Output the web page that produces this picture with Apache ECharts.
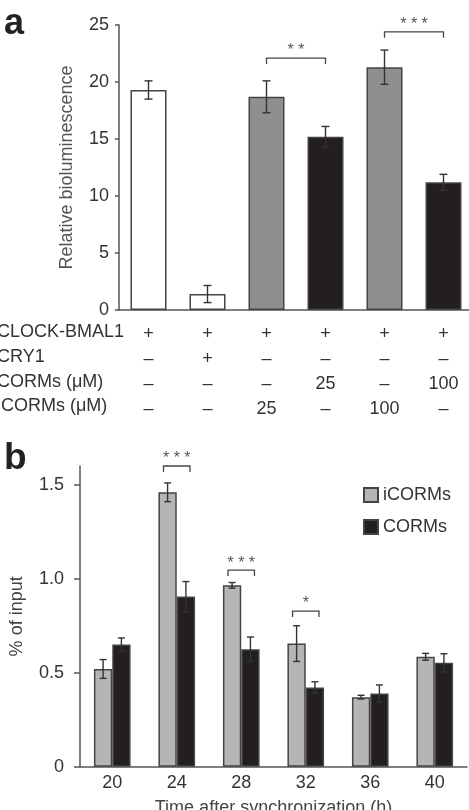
<!DOCTYPE html>
<html>
<head>
<meta charset="utf-8">
<script src="https://cdn.jsdelivr.net/npm/echarts@6.0.0/dist/echarts.min.js"></script>
<style>
  html, body { margin: 0; padding: 0; background: #fff; }
  #main { width: 469px; height: 810px; }
</style>
</head>
<body>
<div id="main"></div>
<script>
// panel a: luciferase assay
const condsA = ['c1', 'c2', 'c3', 'c4', 'c5', 'c6'];
const valsA = [19.3, 1.4, 18.7, 15.2, 21.3, 11.2];
const errA = [0.8, 0.75, 1.4, 0.9, 1.5, 0.7];
const kindA = ['open', 'open', 'inactive', 'active', 'inactive', 'active'];
const ticksA = [0, 5, 10, 15, 20, 25];

// table under panel a
const rowNames = ['CLOCK-BMAL1', 'CRY1', 'CORMs (μM)', 'iCORMs (μM)'];
const rowClock = ['+', '+', '+', '+', '+', '+'];
const rowCry = ['–', '+', '–', '–', '–', '–'];
const rowCorms = ['–', '–', '–', '25', '–', '100'];
const rowIcorms = ['–', '–', '25', '–', '100', '–'];

// significance brackets a: [fromIdx, toIdx, y, stars]
const sigA = [[2, 3, 22.1, '* *'], [4, 5, 24.4, '* * *']];

// panel b: ChIP time course
const hours = ['20', '24', '28', '32', '36', '40'];
const icormVals = [0.52, 1.46, 0.965, 0.655, 0.37, 0.585];
const icormErr = [0.05, 0.05, 0.015, 0.095, 0.01, 0.018];
const cormVals = [0.65, 0.905, 0.625, 0.422, 0.39, 0.553];
const cormErr = [0.035, 0.08, 0.065, 0.03, 0.045, 0.048];
const ticksB = [0, 0.5, 1.0, 1.5];
// significance brackets b: [hourIdx, y, stars]
const sigB = [[1, 1.6, '* * *'], [2, 1.046, '* * *'], [3, 0.828, '*']];

const FONT = '"Liberation Sans", Arial, sans-serif';
const fill = { open: '#ffffff', inactive: '#8f8f92', active: '#231f20' };

const chart = echarts.init(document.getElementById('main'));

function errBars(offsetFrac, cap) {
  return function (params, api) {
    const i = api.value(0), v = api.value(1), e = api.value(2);
    const band = api.size([1, 0])[0];
    const top = api.coord([i, v + e]);
    const bot = api.coord([i, v - e]);
    const cx = top[0] + band * offsetFrac;
    const st = { stroke: '#333', lineWidth: 1.4 };
    return {
      type: 'group',
      children: [
        { type: 'line', shape: { x1: cx, y1: top[1], x2: cx, y2: bot[1] }, style: st },
        { type: 'line', shape: { x1: cx - cap, y1: top[1], x2: cx + cap, y2: top[1] }, style: st },
        { type: 'line', shape: { x1: cx - cap, y1: bot[1], x2: cx + cap, y2: bot[1] }, style: st }
      ]
    };
  };
}

function bracket(p1, p2, label) {
  return {
    type: 'group',
    children: [
      {
        type: 'polyline',
        shape: { points: [[p1[0], p1[1] + 6], [p1[0], p1[1]], [p2[0], p2[1]], [p2[0], p2[1] + 6]] },
        style: { stroke: '#444', lineWidth: 1.3, fill: null }
      },
      {
        type: 'text',
        x: (p1[0] + p2[0]) / 2, y: p1[1] - 7,
        style: { text: label, fill: '#555', font: '16px ' + FONT, textAlign: 'center', textVerticalAlign: 'middle' }
      }
    ]
  };
}

const axisLineStyle = { color: '#555', width: 1.5 };

chart.setOption({
  animation: false,
  textStyle: { fontFamily: FONT },
  grid: [
    { left: 119, top: 25, width: 354, height: 285, outerBoundsMode: 'none' },
    { left: 80, top: 466, width: 387, height: 300.7, outerBoundsMode: 'none' }
  ],
  legend: {
    data: ['iCORMs', 'CORMs'],
    orient: 'vertical',
    left: 358, top: 481,
    itemWidth: 14, itemHeight: 14, itemGap: 14,
    icon: 'rect',
    textStyle: { fontSize: 18, color: '#333', fontFamily: FONT }
  },
  xAxis: [
    {
      type: 'category', gridIndex: 0, data: condsA,
      axisLine: { lineStyle: axisLineStyle },
      axisTick: { show: false },
      axisLabel: {
        interval: 0, margin: 12, fontSize: 18, lineHeight: 24.8, color: '#333',
        formatter: function (v, i) {
          return [rowClock[i], rowCry[i], rowCorms[i], rowIcorms[i]].join('\n');
        }
      }
    },
    {
      type: 'category', gridIndex: 1, data: hours,
      axisLine: { lineStyle: axisLineStyle },
      axisTick: { show: false },
      axisLabel: { interval: 0, margin: 7, fontSize: 18, color: '#333' },
      name: 'Time after synchronization (h)',
      nameLocation: 'middle', nameGap: 32,
      nameTextStyle: { fontSize: 18, color: '#444' }
    }
  ],
  yAxis: [
    {
      type: 'value', gridIndex: 0, min: 0, max: 25, interval: 5,
      axisLine: { show: true, lineStyle: axisLineStyle },
      axisTick: { show: true, length: 4, lineStyle: axisLineStyle, customValues: ticksA },
      splitLine: { show: false },
      axisLabel: { fontSize: 18, color: '#333', margin: 10, customValues: ticksA },
      name: 'Relative bioluminescence',
      nameLocation: 'middle', nameGap: 43,
      nameTextStyle: { fontSize: 18, color: '#555' }
    },
    {
      type: 'value', gridIndex: 1, min: 0, max: 1.6,
      axisLine: { show: true, lineStyle: axisLineStyle },
      axisTick: { show: true, length: 6, lineStyle: axisLineStyle, customValues: ticksB },
      splitLine: { show: false },
      axisLabel: {
        fontSize: 18, color: '#333', margin: 16, customValues: ticksB,
        formatter: function (v) { return v === 0 ? '0' : v.toFixed(1); }
      },
      name: '% of input',
      nameLocation: 'middle', nameGap: 54,
      nameTextStyle: { fontSize: 18, color: '#444' }
    }
  ],
  graphic: rowNames.map(function (t, k) {
    return {
      type: 'text', left: -3, top: 323 + k * 24.8,
      style: { text: t, font: '18px ' + FONT, fill: '#333' }
    };
  }).concat([
    { type: 'text', left: 4, top: 6, style: { text: 'a', font: 'bold 36px ' + FONT, fill: '#222' } },
    { type: 'text', left: 4, top: 440, style: { text: 'b', font: 'bold 37px ' + FONT, fill: '#222' } }
  ]),
  series: [
    {
      type: 'bar', xAxisIndex: 0, yAxisIndex: 0, barWidth: 36,
      data: valsA.map(function (v, i) {
        return { value: v, itemStyle: { color: fill[kindA[i]], borderColor: '#444', borderWidth: 1.5 } };
      })
    },
    {
      type: 'custom', xAxisIndex: 0, yAxisIndex: 0, clip: false, z: 5,
      renderItem: errBars(0, 4),
      data: valsA.map(function (v, i) { return [i, v, errA[i]]; })
    },
    {
      type: 'custom', xAxisIndex: 0, yAxisIndex: 0, clip: false,
      renderItem: function (params, api) {
        const p1 = api.coord([api.value(0), api.value(2)]);
        const p2 = api.coord([api.value(1), api.value(2)]);
        return bracket(p1, p2, sigA[params.dataIndex][3]);
      },
      data: sigA.map(function (s) { return [s[0], s[1], s[2]]; })
    },
    {
      name: 'iCORMs', type: 'bar', xAxisIndex: 1, yAxisIndex: 1,
      barWidth: '28.4%', barGap: '0%',
      itemStyle: { color: '#b5b5b5', borderColor: '#444', borderWidth: 1.5 },
      data: icormVals
    },
    {
      name: 'CORMs', type: 'bar', xAxisIndex: 1, yAxisIndex: 1,
      barWidth: '28.4%', barGap: '0%',
      itemStyle: { color: '#231f20', borderColor: '#444', borderWidth: 1.5 },
      data: cormVals
    },
    {
      type: 'custom', xAxisIndex: 1, yAxisIndex: 1, clip: false, z: 5,
      renderItem: errBars(-0.142, 3.5),
      data: icormVals.map(function (v, i) { return [i, v, icormErr[i]]; })
    },
    {
      type: 'custom', xAxisIndex: 1, yAxisIndex: 1, clip: false, z: 5,
      renderItem: errBars(0.142, 3.5),
      data: cormVals.map(function (v, i) { return [i, v, cormErr[i]]; })
    },
    {
      type: 'custom', xAxisIndex: 1, yAxisIndex: 1, clip: false,
      renderItem: function (params, api) {
        const c = api.coord([api.value(0), api.value(1)]);
        const half = api.size([1, 0])[0] * 0.205;
        return bracket([c[0] - half, c[1]], [c[0] + half, c[1]], sigB[params.dataIndex][2]);
      },
      data: sigB.map(function (s) { return [s[0], s[1]]; })
    }
  ]
});
</script>
</body>
</html>
